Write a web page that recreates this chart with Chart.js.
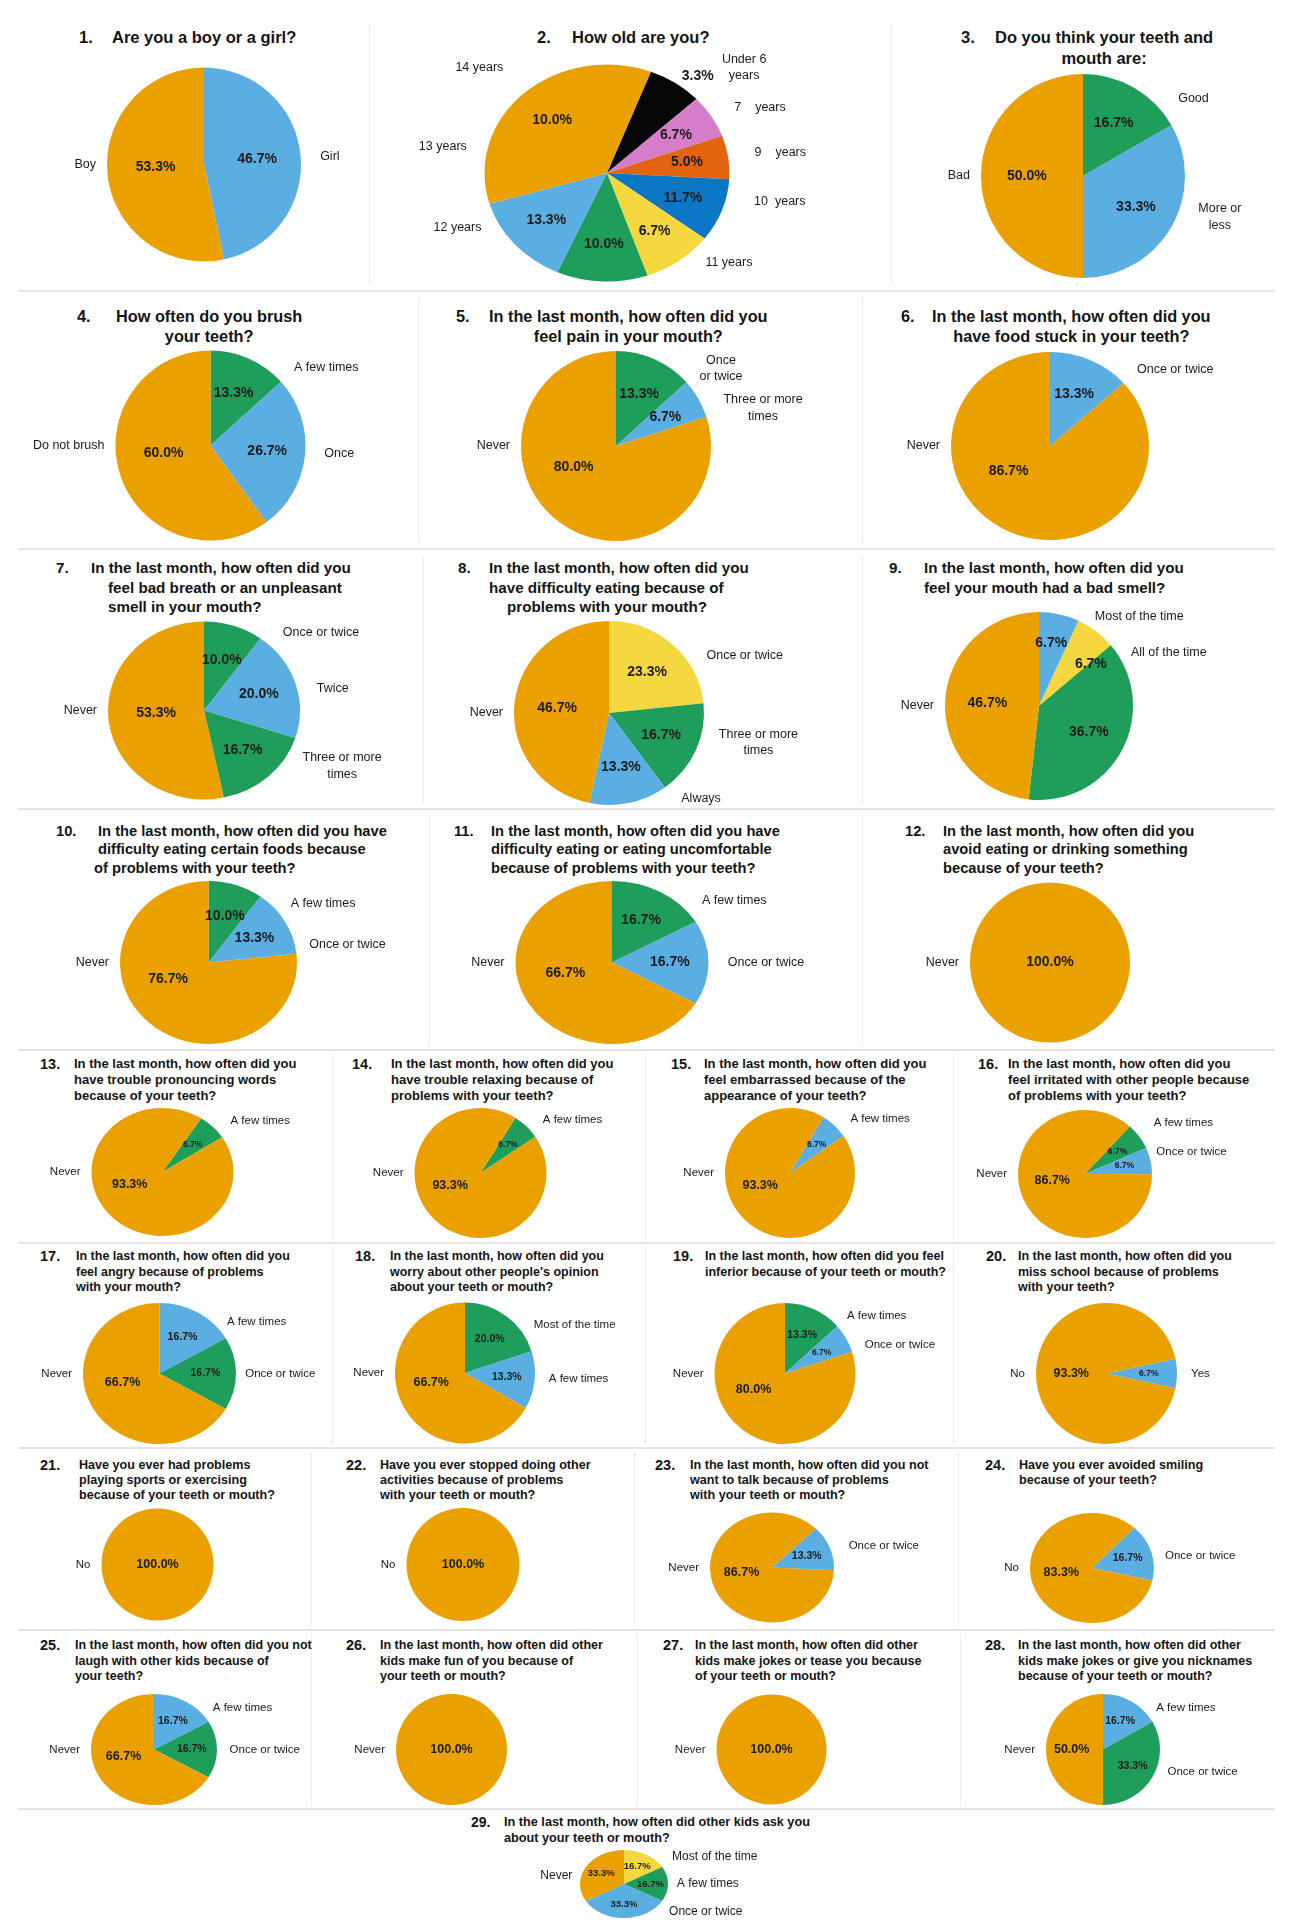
<!DOCTYPE html>
<html><head><meta charset="utf-8">
<script src="https://cdn.jsdelivr.net/npm/chart.js@4.4.1/dist/chart.umd.min.js"></script>
<style>
  html,body{margin:0;padding:0;background:#fff;}
  body{width:1293px;height:1928px;position:relative;overflow:hidden;font-family:"Liberation Sans",Arial,Helvetica,sans-serif;color:#141414;}
  .hl{position:absolute;height:2px;background:#e4e4e4;}
  .vl{position:absolute;width:1px;background:#ededed;}
  .tn,.tt{position:absolute;font-weight:bold;white-space:nowrap;}
  .tt{display:inline-block;}
  canvas{position:absolute;}
</style></head><body>
<script>
'use strict';

/* ── DATA (clockwise from each pie's start angle) ── */
const q1Cats = ['Girl', 'Boy'];
const q1Vals = [46.7, 53.3];
const q2Cats = ['Under 6\nyears', '7    years', '9    years', '10  years', '11 years', '', '12 years', '13 years'];
const q2Vals = [7.2, 6.4, 6.5, 9.4, 9.3, 12.0, 13.8, 35.4];   // slice sizes as drawn
const q2Printed = ['3.3%', '6.7%', '5.0%', '11.7%', '6.7%', '10.0%', '13.3%', '10.0%'];
const q3Cats = ['Good', 'More or\nless', 'Bad'];
const q3Vals = [16.7, 33.3, 50.0];
const q4Cats = ['A few times', 'Once', 'Do not brush'];
const q4Vals = [13.3, 26.7, 60.0];
const q5Cats = ['Once\nor twice', 'Three or more\ntimes', 'Never'];
const q5Vals = [13.3, 6.7, 80.0];
const q6Cats = ['Once or twice', 'Never'];
const q6Vals = [13.3, 86.7];
const q7Cats = ['Once or twice', 'Twice', 'Three or more\ntimes', 'Never'];
const q7Vals = [10.0, 20.0, 16.7, 53.3];
const q8Cats = ['Once or twice', 'Three or more\ntimes', 'Always', 'Never'];
const q8Vals = [23.3, 16.7, 13.3, 46.7];
const q9Cats = ['Most of the time', 'All of the time', '', 'Never'];
const q9Vals = [6.7, 6.7, 36.7, 46.7];
const q10Cats = ['A few times', 'Once or twice', 'Never'];
const q10Vals = [10.0, 13.3, 76.7];
const q11Cats = ['A few times', 'Once or twice', 'Never'];
const q11Vals = [16.7, 16.7, 66.7];
const q12Cats = ['Never'];
const q12Vals = [100];
const q13Cats = ['A few times', 'Never'];
const q13Vals = [6.7, 93.3];
const q14Cats = ['A few times', 'Never'];
const q14Vals = [6.7, 93.3];
const q15Cats = ['A few times', 'Never'];
const q15Vals = [6.7, 93.3];
const q16Cats = ['A few times', 'Once or twice', 'Never'];
const q16Vals = [6.7, 6.7, 86.7];
const q17Cats = ['A few times', 'Once or twice', 'Never'];
const q17Vals = [16.7, 16.7, 66.7];
const q18Cats = ['Most of the time', 'A few times', 'Never'];
const q18Vals = [20.0, 13.3, 66.7];
const q19Cats = ['A few times', 'Once or twice', 'Never'];
const q19Vals = [13.3, 6.7, 80.0];
const q20Cats = ['Yes', 'No'];
const q20Vals = [6.7, 93.3];
const q21Cats = ['No'];
const q21Vals = [100];
const q22Cats = ['No'];
const q22Vals = [100];
const q23Cats = ['Once or twice', 'Never'];
const q23Vals = [13.3, 86.7];
const q24Cats = ['Once or twice', 'No'];
const q24Vals = [16.7, 83.3];
const q25Cats = ['A few times', 'Once or twice', 'Never'];
const q25Vals = [16.7, 16.7, 66.7];
const q26Cats = ['Never'];
const q26Vals = [100];
const q27Cats = ['Never'];
const q27Vals = [100];
const q28Cats = ['A few times', 'Once or twice', 'Never'];
const q28Vals = [16.7, 33.3, 50.0];
const q29Cats = ['Most of the time', 'A few times', 'Once or twice', 'Never'];
const q29Vals = [16.7, 16.7, 33.3, 33.3];

/* ── STYLE ─────────────────────────────────── */
const ORA = '#EAA100', LBL = '#5BAEE2', GRN = '#1F9E5B', YEL = '#F5D83F';
const BLK = '#060606', PNK = '#D67DCA', RED = '#E2640F', DBL = '#0B77C5';
const FONT = '"Liberation Sans", Arial, Helvetica, sans-serif';

const R1 = {fs: 16.5, lh: 21, cat: 12.5, pct: [14, 14, 14]};
const R2 = {fs: 16.3, lh: 20, cat: 12.5, pct: [14, 14, 14]};
const R3 = {fs: 15.2, lh: 19.5, cat: 12.5, pct: [14, 14, 14]};
const R4 = {fs: 14.7, lh: 18.5, cat: 12.5, pct: [14, 14, 14]};
const R5 = {fs: 13, lh: 16, nfs: 14.5, cat: 11.5, pct: [12.5, 10.5, 8.5]};
const R6 = {fs: 12.5, lh: 15.5, nfs: 14.5, cat: 11.5, pct: [12.5, 10.5, 8.5]};
const R7 = {fs: 12.6, lh: 15, nfs: 14.5, cat: 11.5, pct: [12.5, 10.5, 8.5]};
const R8 = {fs: 12.5, lh: 15.5, nfs: 14.5, cat: 11.5, pct: [12.5, 10.5, 8.5]};
const R9 = {fs: 12.7, lh: 16, nfs: 14, cat: 12, pct: [9.5, 9.5, 8.5]};

/* ── PANELS ────────────────────────────────── */
const panels = [
  {row: R1, n: '1.', nx: 79, tx: 112, ty: 37, t: ['Are you a boy or a girl?'],
   cats: q1Cats, vals: q1Vals, colors: [LBL, ORA], cx: 204, cy: 164.5, rx: 97},
  {row: R1, n: '2.', nx: 537, tx: 572, ty: 37, t: ['How old are you?'],
   cats: q2Cats, vals: q2Vals, printed: q2Printed, colors: [BLK, PNK, RED, DBL, YEL, GRN, LBL, ORA],
   cx: 607, cy: 173, rx: 122.5, ry: 108.5, rot: 21, pctK: 0.66,
   catAt: [[44, 1.35], [60, 1.2], [81, 1.22], [102.5, 1.23], [135.7, 1.15], null, [244, 1.14], [282, 1.17]],
   pctAt: [[39.7, 1.16]], extra: [{t: '14 years', at: [319, 1.29]}]},
  {row: R1, n: '3.', nx: 961, tx: 995, ty: 37, al: 'center', t: ['Do you think your teeth and', 'mouth are:'],
   cats: q3Cats, vals: q3Vals, colors: [GRN, LBL, ORA], cx: 1083, cy: 176, rx: 102},

  {row: R2, n: '4.', nx: 77, tx: 116, ty: 316, al: 'center', t: ['How often do you brush', 'your teeth?'],
   cats: q4Cats, vals: q4Vals, colors: [GRN, LBL, ORA], cx: 210.5, cy: 445.5, rx: 95},
  {row: R2, n: '5.', nx: 456, tx: 489, ty: 316, al: 'center', t: ['In the last month, how often did you', 'feel pain in your mouth?'],
   cats: q5Cats, vals: q5Vals, colors: [GRN, LBL, ORA], cx: 616, cy: 446, rx: 95},
  {row: R2, n: '6.', nx: 901, tx: 932, ty: 316, al: 'center', t: ['In the last month, how often did you', 'have food stuck in your teeth?'],
   cats: q6Cats, vals: q6Vals, colors: [LBL, ORA], cx: 1050, cy: 446, rx: 99, ry: 94},

  {row: R3, n: '7.', nx: 56, tx: 91, ty: 568, ind: [0, 17, 17],
   t: ['In the last month, how often did you', 'feel bad breath or an unpleasant', 'smell in your mouth?'],
   cats: q7Cats, vals: q7Vals, colors: [GRN, LBL, GRN, ORA], cx: 204, cy: 710.5, rx: 96, ry: 89},
  {row: R3, n: '8.', nx: 458, tx: 489, ty: 568, ind: [0, 0, 18],
   t: ['In the last month, how often did you', 'have difficulty eating because of', 'problems with your mouth?'],
   cats: q8Cats, vals: q8Vals, colors: [YEL, GRN, LBL, ORA], cx: 609, cy: 713, rx: 95, ry: 92},
  {row: R3, n: '9.', nx: 889, tx: 924, ty: 568,
   t: ['In the last month, how often did you', 'feel your mouth had a bad smell?'],
   cats: q9Cats, vals: q9Vals, colors: [LBL, YEL, GRN, ORA], cx: 1039, cy: 706, rx: 94,
   catAt: [[32, 1.12], [60, 1.13]], pctAt: [[11, 0.68], [51, 0.71]]},

  {row: R4, n: '10.', nx: 56, tx: 98, ty: 831, ind: [0, 0, -4],
   t: ['In the last month, how often did you have', 'difficulty eating certain foods because', 'of problems with your teeth?'],
   cats: q10Cats, vals: q10Vals, colors: [GRN, LBL, ORA], cx: 208.5, cy: 962.5, rx: 88.5, ry: 81.5,
   catAt: [[52, 1.18], [79, 1.16]]},
  {row: R4, n: '11.', nx: 454, tx: 491, ty: 831,
   t: ['In the last month, how often did you have', 'difficulty eating or eating uncomfortable', 'because of problems with your teeth?'],
   cats: q11Cats, vals: q11Vals, colors: [GRN, LBL, ORA], cx: 612, cy: 962.5, rx: 96.5, ry: 81.5},
  {row: R4, n: '12.', nx: 905, tx: 943, ty: 831,
   t: ['In the last month, how often did you', 'avoid eating or drinking something', 'because of your teeth?'],
   cats: q12Cats, vals: q12Vals, colors: [ORA], cx: 1050, cy: 962.5, rx: 80},

  {row: R5, n: '13.', nx: 40, tx: 74, ty: 1064,
   t: ['In the last month, how often did you', 'have trouble pronouncing words', 'because of your teeth?'],
   cats: q13Cats, vals: q13Vals, colors: [GRN, ORA], cx: 162.5, cy: 1172, rx: 71, ry: 64, rot: 33, catAt: [[50, 1.25]]},
  {row: R5, n: '14.', nx: 352, tx: 391, ty: 1064,
   t: ['In the last month, how often did you', 'have trouble relaxing because of', 'problems with your teeth?'],
   cats: q14Cats, vals: q14Vals, colors: [GRN, ORA], cx: 480.5, cy: 1173, rx: 66, ry: 65, rot: 32, catAt: [[49, 1.25]]},
  {row: R5, n: '15.', nx: 671, tx: 704, ty: 1064,
   t: ['In the last month, how often did you', 'feel embarrassed because of the', 'appearance of your teeth?'],
   cats: q15Cats, vals: q15Vals, colors: [LBL, ORA], cx: 790, cy: 1173, rx: 65, rot: 31, catAt: [[48, 1.25]]},
  {row: R5, n: '16.', nx: 978, tx: 1008, ty: 1064,
   t: ['In the last month, how often did you', 'feel irritated with other people because', 'of problems with your teeth?'],
   cats: q16Cats, vals: q16Vals, colors: [GRN, LBL, ORA], cx: 1085, cy: 1174, rx: 67, ry: 64, rot: 42,
   catAt: [[52, 1.3], [72, 1.12]]},

  {row: R6, n: '17.', nx: 40, tx: 76, ty: 1257,
   t: ['In the last month, how often did you', 'feel angry because of problems', 'with your mouth?'],
   cats: q17Cats, vals: q17Vals, colors: [LBL, GRN, ORA], cx: 159.5, cy: 1373.5, rx: 76.5, ry: 70.5,
   catAt: [[50, 1.15], [90, 1.12]]},
  {row: R6, n: '18.', nx: 355, tx: 390, ty: 1257,
   t: ['In the last month, how often did you', "worry about other people's opinion", 'about your teeth or mouth?'],
   cats: q18Cats, vals: q18Vals, colors: [GRN, LBL, ORA], cx: 465, cy: 1373, rx: 70, ry: 70.5},
  {row: R6, n: '19.', nx: 673, tx: 705, ty: 1257,
   t: ['In the last month, how often did you feel', 'inferior because of your teeth or mouth?'],
   cats: q19Cats, vals: q19Vals, colors: [GRN, LBL, ORA], cx: 785, cy: 1373.5, rx: 70.5},
  {row: R6, n: '20.', nx: 986, tx: 1018, ty: 1257,
   t: ['In the last month, how often did you', 'miss school because of problems', 'with your teeth?'],
   cats: q20Cats, vals: q20Vals, colors: [LBL, ORA], cx: 1106.5, cy: 1373.5, rx: 70.5, rot: 78},

  {row: R7, n: '21.', nx: 40, tx: 79, ty: 1465,
   t: ['Have you ever had problems', 'playing sports or exercising', 'because of your teeth or mouth?'],
   cats: q21Cats, vals: q21Vals, colors: [ORA], cx: 157.5, cy: 1564.5, rx: 56},
  {row: R7, n: '22.', nx: 346, tx: 380, ty: 1465,
   t: ['Have you ever stopped doing other', 'activities because of problems', 'with your teeth or mouth?'],
   cats: q22Cats, vals: q22Vals, colors: [ORA], cx: 463, cy: 1564.5, rx: 56.5},
  {row: R7, n: '23.', nx: 655, tx: 690, ty: 1465,
   t: ['In the last month, how often did you not', 'want to talk because of problems', 'with your teeth or mouth?'],
   cats: q23Cats, vals: q23Vals, colors: [LBL, ORA], cx: 772, cy: 1567.5, rx: 62, ry: 55, rot: 45, catAt: [[72, 1.3]]},
  {row: R7, n: '24.', nx: 985, tx: 1019, ty: 1465,
   t: ['Have you ever avoided smiling', 'because of your teeth?'],
   cats: q24Cats, vals: q24Vals, colors: [LBL, ORA], cx: 1092, cy: 1568, rx: 62, ry: 55, rot: 43},

  {row: R8, n: '25.', nx: 40, tx: 75, ty: 1646,
   t: ['In the last month, how often did you not', 'laugh with other kids because of', 'your teeth?'],
   cats: q25Cats, vals: q25Vals, colors: [LBL, GRN, ORA], cx: 154, cy: 1749.5, rx: 63, ry: 55.5},
  {row: R8, n: '26.', nx: 346, tx: 380, ty: 1646,
   t: ['In the last month, how often did other', 'kids make fun of you because of', 'your teeth or mouth?'],
   cats: q26Cats, vals: q26Vals, colors: [ORA], cx: 451.5, cy: 1749.5, rx: 55.5},
  {row: R8, n: '27.', nx: 663, tx: 695, ty: 1646,
   t: ['In the last month, how often did other', 'kids make jokes or tease you because', 'of your teeth or mouth?'],
   cats: q27Cats, vals: q27Vals, colors: [ORA], cx: 771.5, cy: 1749.5, rx: 55},
  {row: R8, n: '28.', nx: 985, tx: 1018, ty: 1646,
   t: ['In the last month, how often did other', 'kids make jokes or give you nicknames', 'because of your teeth or mouth?'],
   cats: q28Cats, vals: q28Vals, colors: [LBL, GRN, ORA], cx: 1103, cy: 1749.5, rx: 57, ry: 55.5},

  {row: R9, n: '29.', nx: 471, tx: 504, ty: 1822,
   t: ['In the last month, how often did other kids ask you', 'about your teeth or mouth?'],
   cats: q29Cats, vals: q29Vals, colors: [YEL, GRN, LBL, ORA], cx: 624, cy: 1884, rx: 44, ry: 34,
   catAt: [[54, 1.35], null, [128, 1.3], [282, 1.2]]},
];

const hLines = [291, 549, 809, 1050, 1243, 1448, 1630, 1809];
const vLines = [
  {y0: 25, y1: 283, xs: [369, 891]},
  {y0: 297, y1: 543, xs: [418, 862]},
  {y0: 556, y1: 803, xs: [423, 862]},
  {y0: 815, y1: 1046, xs: [429, 862]},
  {y0: 1054, y1: 1240, xs: [332, 645, 953]},
  {y0: 1247, y1: 1444, xs: [332, 645, 953]},
  {y0: 1452, y1: 1626, xs: [311, 634, 958]},
  {y0: 1634, y1: 1806, xs: [311, 637, 960]},
];

/* ── FRAME ─────────────────────────────────── */
function el(cls, css) {
  const d = document.createElement('div');
  d.className = cls;
  Object.assign(d.style, css);
  document.body.appendChild(d);
  return d;
}
hLines.forEach(y => el('hl', {left: '18px', width: '1257px', top: (y - 1) + 'px'}));
vLines.forEach(r => r.xs.forEach(x => el('vl', {left: x + 'px', top: r.y0 + 'px', height: (r.y1 - r.y0) + 'px'})));

/* ── TITLES ────────────────────────────────── */
panels.forEach(p => {
  const r = p.row;
  const top = (p.ty - r.lh / 2) + 'px';
  const n = el('tn', {left: p.nx + 'px', top, fontSize: (r.nfs || r.fs) + 'px', lineHeight: r.lh + 'px'});
  n.textContent = p.n;
  const t = el('tt', {left: p.tx + 'px', top, fontSize: r.fs + 'px', lineHeight: r.lh + 'px', textAlign: p.al || 'left'});
  p.t.forEach((line, j) => {
    const l = document.createElement('div');
    l.textContent = line;
    if (p.ind && p.ind[j]) l.style.marginLeft = p.ind[j] + 'px';
    t.appendChild(l);
  });
});

/* ── PIE LABELS ────────────────────────────── */
const rad = d => d * Math.PI / 180;

function putText(ctx, text, x, y, align, fs, weight) {
  const lines = text.split('\n');
  const lh = fs * 1.32;
  ctx.font = weight + ' ' + fs + 'px ' + FONT;
  const w = Math.max(...lines.map(l => ctx.measureText(l).width));
  const mx = align === 'left' ? x + w / 2 : align === 'right' ? x - w / 2 : x;
  ctx.textAlign = 'center';
  ctx.textBaseline = 'middle';
  lines.forEach((l, j) => ctx.fillText(l, mx, y + (j - (lines.length - 1) / 2) * lh));
}

function polar(cx, cy, rx, ry, a, k) {
  return [cx + k * rx * Math.sin(rad(a)), cy - k * ry * Math.cos(rad(a))];
}

function drawLabels(chart, p) {
  const ctx = chart.ctx;
  const arcs = chart.getDatasetMeta(0).data;
  const tot = p.vals.reduce((s, v) => s + v, 0);
  const r = p.row;
  ctx.save();
  ctx.fillStyle = '#1b1b1b';
  arcs.forEach((arc, i) => {
    const share = p.vals[i] / tot;
    const cx = arc.x, cy = arc.y, rx = arc.outerRadius, ry = rx * p.sy;
    let mid = ((arc.startAngle + arc.endAngle) / 2) * 180 / Math.PI + 90;
    mid = ((mid % 360) + 360) % 360;

    // percentage inside the slice
    let pa = mid, pk = p.pctK || (share > 0.5 ? 0.5 : share >= 0.4 ? 0.55 : 0.6);
    if (share > 0.5) pa = mid + (270 - mid) * 0.5;
    if (share > 0.999) pk = 0;
    const po = p.pctAt && p.pctAt[i];
    if (po) { pa = po[0]; pk = po[1]; }
    const [px, py] = polar(cx, cy, rx, ry, pa, pk);
    const pfs = share >= 0.5 ? r.pct[0] : share >= 0.1 ? r.pct[1] : r.pct[2];
    const txt = p.printed ? p.printed[i] : p.vals[i].toFixed(1) + '%';
    putText(ctx, txt, px, py, 'center', pfs, 'bold');

    // category label outside
    const cat = p.cats[i];
    if (!cat) return;
    const co = p.catAt && p.catAt[i];
    if (co) {
      const [x, y] = polar(cx, cy, rx, ry, co[0], co[1]);
      putText(ctx, cat, x, y, Math.sin(rad(co[0])) >= 0 ? 'left' : 'right', r.cat, 'normal');
    } else if (mid < 180 && share < 0.999) {
      const a = mid + (90 - mid) * 0.35;
      const [x, y] = polar(cx, cy, rx, ry, a, 1.2);
      putText(ctx, cat, x, y, 'left', r.cat, 'normal');
    } else {
      putText(ctx, cat, cx - rx - 11, cy, 'right', r.cat, 'normal');
    }
  });
  (p.extra || []).forEach(e => {
    const a0 = arcs[0];
    const [x, y] = polar(a0.x, a0.y, a0.outerRadius, a0.outerRadius * p.sy, e.at[0], e.at[1]);
    putText(ctx, e.t, x, y, Math.sin(rad(e.at[0])) >= 0 ? 'left' : 'right', r.cat, 'normal');
  });
  ctx.restore();
}

function makeDeco(p) {
  return {
    id: 'deco' + p.n.replace('.', ''),
    beforeDatasetsDraw(chart) {
      const a = chart.getDatasetMeta(0).data[0];
      const ctx = chart.ctx;
      ctx.save();
      if (p.sy !== 1) { ctx.translate(a.x, a.y); ctx.scale(1, p.sy); ctx.translate(-a.x, -a.y); }
    },
    afterDatasetsDraw(chart) {
      chart.ctx.restore();
      drawLabels(chart, p);
    }
  };
}

/* ── CHARTS ────────────────────────────────── */
Chart.defaults.font.family = FONT;
panels.forEach(p => {
  const rx = p.rx, ry = p.ry || p.rx;
  p.sy = ry / rx;
  const W = Math.round(2 * rx + 280), H = Math.round(2 * Math.max(rx, ry) + 50);
  const left = Math.floor(p.cx - W / 2), top = Math.floor(p.cy - H / 2);
  const fx = (p.cx - left) - W / 2, fy = (p.cy - top) - H / 2;
  const cv = document.createElement('canvas');
  cv.width = W; cv.height = H;
  cv.style.left = left + 'px';
  cv.style.top = top + 'px';
  document.body.appendChild(cv);
  new Chart(cv, {
    type: 'pie',
    data: {
      labels: p.cats,
      datasets: [{
        data: p.vals, backgroundColor: p.colors, borderWidth: 0, hoverOffset: 0,
        rotation: p.rot || 0, radius: rx, clip: false
      }]
    },
    options: {
      responsive: false, animation: false, devicePixelRatio: 1, events: [],
      layout: {padding: {left: Math.max(0, 2 * fx), right: Math.max(0, -2 * fx), top: Math.max(0, 2 * fy), bottom: Math.max(0, -2 * fy)}},
      plugins: {legend: {display: false}, tooltip: {enabled: false}}
    },
    plugins: [makeDeco(p)]
  });
});
</script>
</body></html>
